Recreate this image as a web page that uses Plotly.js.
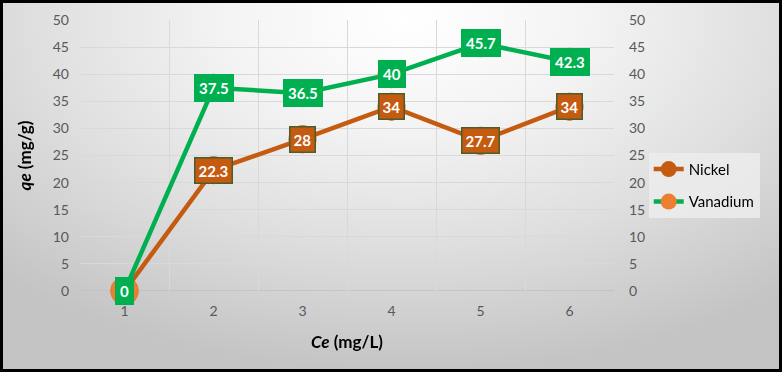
<!DOCTYPE html>
<html><head><meta charset="utf-8">
<script src="https://cdn.plot.ly/plotly-3.0.1.min.js"></script>
<style>
html,body{margin:0;padding:0;}
#wrap{position:relative;width:782px;height:372px;background:radial-gradient(ellipse 75% 95% at 52% 5%, #ffffff 0%, #f4f4f4 30%, #dedede 65%, #c4c4c4 100%);}
#chart{position:absolute;left:0;top:0;width:782px;height:372px;}
#frame{position:absolute;left:0;top:0;width:782px;height:372px;box-sizing:border-box;border:3px solid #000;pointer-events:none;}
</style></head>
<body><div id="wrap"><div id="chart"></div><div id="frame"></div></div>
<script>
const ce = [1, 2, 3, 4, 5, 6];
const nickel = [0, 22.3, 28, 34, 27.7, 34];
const vanadium = [0, 37.5, 36.5, 40, 45.7, 42.3];
const yTicks = [0, 5, 10, 15, 20, 25, 30, 35, 40, 45, 50];

const FONT = 'Lato, "Open Sans", sans-serif';
const traces = [
  {x: ce, y: nickel, name: 'Nickel', mode: 'lines+markers', legendgroup: 'a', cliponaxis: false,
   line: {color: '#C55A11', width: 4.5},
   marker: {color: '#C55A11', size: 28}},
  {x: ce, y: vanadium, name: 'Vanadium', mode: 'lines+markers', legendgroup: 'b', cliponaxis: false,
   line: {color: '#00B050', width: 4.5},
   marker: {color: '#ED7D31', size: 28}},
  {x: ce, y: vanadium, yaxis: 'y2', mode: 'markers', opacity: 0,
   showlegend: false, hoverinfo: 'skip', marker: {size: 1}}
];

const annotations = [];
ce.forEach((c, i) => {
  annotations.push({x: c, y: nickel[i], text: '<b>' + nickel[i] + '</b>', showarrow: false,
    font: {family: FONT, size: 15, color: '#ffffff'}, bgcolor: '#C55A11',
    bordercolor: '#4B5E2A', borderwidth: 1.5, borderpad: 3});
});
ce.forEach((c, i) => {
  annotations.push({x: c, y: vanadium[i], text: '<b>' + vanadium[i] + '</b>', showarrow: false,
    font: {family: FONT, size: 15, color: '#ffffff'}, bgcolor: '#00B050',
    bordercolor: '#00B050', borderwidth: 1, borderpad: 4});
});

const yax = {range: [0, 50], tickvals: yTicks, ticktext: yTicks.map(String),
  showgrid: true, gridcolor: '#d9d9d9', gridwidth: 1, zeroline: false, showline: false,
  tickfont: {family: FONT, size: 14, color: '#595959'}, ticks: '', fixedrange: true};

const layout = {
  width: 782, height: 372,
  margin: {l: 80, r: 168, t: 20, b: 81},
  paper_bgcolor: 'rgba(0,0,0,0)', plot_bgcolor: 'rgba(0,0,0,0)',
  font: {family: FONT},
  showlegend: true,
  legend: {x: 1.065, y: 0.51, xanchor: 'left', yanchor: 'top', traceorder: 'grouped',
    bgcolor: 'rgba(236,236,236,0.85)', borderwidth: 0,
    font: {family: FONT, size: 15, color: '#000000'}, tracegroupgap: 10},
  xaxis: {range: [0.5, 6.5], tickvals: ce, ticktext: ce.map(String),
    showgrid: false, zeroline: false, showline: false, ticks: '', ticklabelstandoff: 10,
    tickfont: {family: FONT, size: 14, color: '#595959'},
    minor: {dtick: 1, tick0: 0.5, showgrid: true, gridcolor: '#d9d9d9', gridwidth: 1},
    title: {text: '<b><i>Ce</i> (mg/L)</b>', font: {family: FONT, size: 17, color: '#000'}, standoff: 18}},
  yaxis: Object.assign({}, yax, {ticklabelstandoff: 10,
    title: {text: '<b><i>qe</i> (mg/g)</b>', font: {family: FONT, size: 17, color: '#000'}, standoff: 16}}),
  yaxis2: Object.assign({}, yax, {overlaying: 'y', side: 'right', showgrid: false, ticklabelstandoff: 14}),
  annotations: annotations,
  shapes: [{type: 'line', xref: 'paper', yref: 'y', x0: 0, x1: 1, y0: 0, y1: 0,
    line: {color: '#bfbfbf', width: 1.5}, layer: 'below'}]
};
Plotly.newPlot('chart', traces, layout, {displayModeBar: false, staticPlot: true});
</script></body></html>
